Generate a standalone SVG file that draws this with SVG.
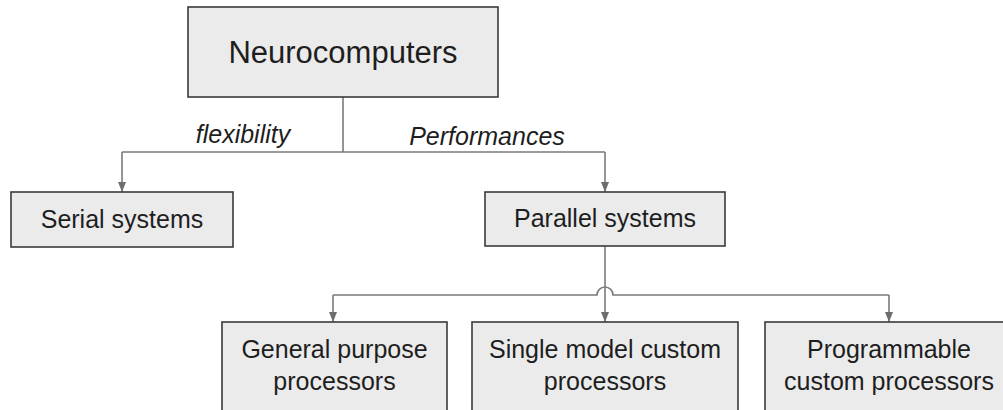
<svg xmlns="http://www.w3.org/2000/svg" width="1003" height="410" viewBox="0 0 1003 410">
  <defs>
    <marker id="arrow" viewBox="0 0 10 8" refX="10" refY="4" markerWidth="10" markerHeight="8" markerUnits="userSpaceOnUse" orient="auto">
      <path d="M0,0 L10,4 L0,8 Z" fill="#6e6e6e"/>
    </marker>
    <style>
      .box { fill: #ebebeb; stroke: #3a3a3a; stroke-width: 1.6; }
      .lbl { font-family: "Liberation Sans", Arial, sans-serif; font-size: 25px; fill: #1e1e1e; text-anchor: middle; }
      .edge { fill: none; stroke: #7a7a7a; stroke-width: 1.6; }
      .elbl { font-family: "Liberation Sans", Arial, sans-serif; font-size: 25px; font-style: italic; fill: #1e1e1e; text-anchor: middle; }
    </style>
  </defs>
  <rect width="1003" height="410" fill="#ffffff"/>

  <g id="connectors">
    <path class="edge" d="M343,97 V152"/>
    <path class="edge" d="M122,152 H605"/>
    <path class="edge" d="M122,152 V192" marker-end="url(#arrow)"/>
    <path class="edge" d="M605,152 V192" marker-end="url(#arrow)"/>
    <path class="edge" d="M605,246 V322" marker-end="url(#arrow)"/>
    <!-- bus to the three processor boxes, hopping over the vertical feed -->
    <path class="edge" d="M333,295 H597 A8,8 0 0 1 613,295 H889"/>
    <path class="edge" d="M333,295 V322" marker-end="url(#arrow)"/>
    <path class="edge" d="M889,295 V322" marker-end="url(#arrow)"/>
    <text class="elbl" x="243" y="143">flexibility</text>
    <text class="elbl" x="487" y="145">Performances</text>
  </g>

  <g id="neurocomputers">
    <rect class="box" x="188" y="7" width="310" height="90"/>
    <text class="lbl" x="343" y="63" style="font-size:31px">Neurocomputers</text>
  </g>

  <g id="serial-systems">
    <rect class="box" x="11" y="192" width="222" height="55"/>
    <text class="lbl" x="122" y="228">Serial systems</text>
  </g>

  <g id="parallel-systems">
    <rect class="box" x="485" y="192" width="240" height="54"/>
    <text class="lbl" x="605" y="227">Parallel systems</text>
  </g>

  <g id="general-purpose">
    <rect class="box" x="222" y="322" width="225" height="100"/>
    <text class="lbl" x="334.5" y="358">General purpose</text>
    <text class="lbl" x="334.5" y="390">processors</text>
  </g>

  <g id="single-model">
    <rect class="box" x="472" y="322" width="266" height="100"/>
    <text class="lbl" x="605" y="358">Single model custom</text>
    <text class="lbl" x="605" y="390">processors</text>
  </g>

  <g id="programmable">
    <rect class="box" x="765" y="322" width="250" height="100"/>
    <text class="lbl" x="889" y="358">Programmable</text>
    <text class="lbl" x="889" y="390">custom processors</text>
  </g>
</svg>
